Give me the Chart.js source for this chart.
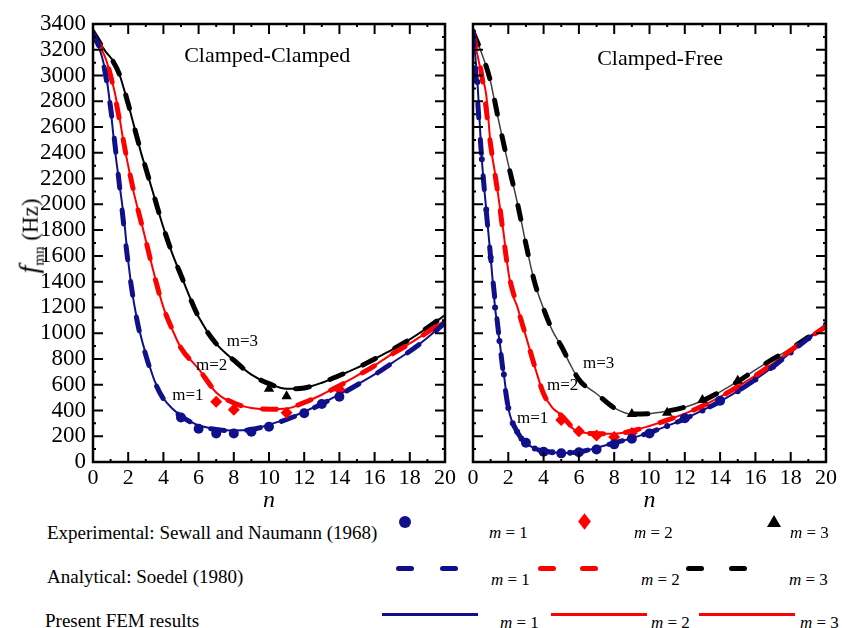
<!DOCTYPE html>
<html>
<head>
<meta charset="utf-8">
<script src="https://cdn.jsdelivr.net/npm/chart.js@4.4.0/dist/chart.umd.min.js"></script>
<style>
body{margin:0;background:#fff;width:842px;height:628px;position:relative;overflow:hidden;font-family:"Liberation Serif","Times New Roman",serif;color:#000;}
canvas{position:absolute;top:0;}
#cc{left:0;}
#cf{left:460px;}
.t{position:absolute;white-space:nowrap;font-size:19px;line-height:19px;}
.m{position:absolute;white-space:nowrap;font-size:17px;line-height:17px;}
.m i{font-style:italic;}
.ytitle{position:absolute;left:30px;top:236px;transform:translate(-50%,-50%) rotate(-90deg);white-space:nowrap;font-size:23px;}
.ytitle i{font-size:28px;}
.ytitle sub{font-size:15px;}
.dot{position:absolute;width:12px;height:12px;border-radius:50%;background:#10108a;}
.dia{position:absolute;width:9px;height:9px;background:#ff0000;transform:scale(1,1.3) rotate(45deg);}
.tri{position:absolute;width:0;height:0;border-left:7px solid transparent;border-right:7px solid transparent;border-bottom:12px solid #000;}
.dash{position:absolute;width:18px;height:5px;border-radius:3px;}
.ln{position:absolute;width:96px;height:3px;}
</style>
</head>
<body>
<canvas id="cc" width="460" height="515"></canvas>
<canvas id="cf" width="382" height="515"></canvas>

<div class="ytitle"><i>f</i><sub>mn</sub> (Hz)</div>

<div class="t" style="left:47px;top:523px">Experimental: Sewall and Naumann (1968)</div>
<div class="dot" style="left:399px;top:516px"></div>
<div class="m" style="left:489px;top:524px"><i>m</i> = 1</div>
<div class="dia" style="left:580px;top:517px"></div>
<div class="m" style="left:634px;top:524px"><i>m</i> = 2</div>
<div class="tri" style="left:767px;top:515px"></div>
<div class="m" style="left:790px;top:524px"><i>m</i> = 3</div>

<div class="t" style="left:47px;top:567px">Analytical: Soedel (1980)</div>
<div class="dash" style="left:396px;top:566px;background:#10108a"></div>
<div class="dash" style="left:440px;top:566px;background:#10108a"></div>
<div class="m" style="left:491px;top:571px"><i>m</i> = 1</div>
<div class="dash" style="left:538px;top:566px;background:#ff0000"></div>
<div class="dash" style="left:580px;top:566px;background:#ff0000"></div>
<div class="m" style="left:641px;top:571px"><i>m</i> = 2</div>
<div class="dash" style="left:686px;top:566px;background:#000"></div>
<div class="dash" style="left:729px;top:566px;background:#000"></div>
<div class="m" style="left:789px;top:571px"><i>m</i> = 3</div>

<div class="t" style="left:45px;top:611px">Present FEM results</div>
<div class="ln" style="left:382px;top:613px;background:#10108a"></div>
<div class="m" style="left:500px;top:614px"><i>m</i> = 1</div>
<div class="ln" style="left:551px;top:613px;background:#ff0000"></div>
<div class="m" style="left:651px;top:614px"><i>m</i> = 2</div>
<div class="ln" style="left:699px;top:613px;background:#ff0000"></div>
<div class="m" style="left:800px;top:614px"><i>m</i> = 3</div>

<script>
// circumferential wave number n
const nFine = [0,0.25,0.5,0.75,1,1.25,1.5,1.75,2,2.25,2.5,2.75,3,3.5,4,4.5,5,5.5,6,7,8,9,10,11,12,13,14,15,16,17,18,19,20];
const nCoarse = [0,0.5,1,1.5,2,2.5,3,3.5,4,4.5,5,6,7,8,9,10,11,12,13,14,15,16,17,18,19,20];

// Present FEM results, clamped-clamped (Hz)
const femCC1 = [3340,3250,3150,3000,2740,2420,2160,1900,1560,1300,1110,960,840,630,495,415,360,318,285,255,245,255,290,335,390,455,525,600,680,770,860,965,1085];
const femCC2 = [3300,3260,3200,3120,3000,2860,2680,2470,2300,2130,1990,1860,1720,1445,1200,1030,885,800,722,540,455,420,410,415,462,522,595,670,750,840,920,1010,1100];
const femCC3 = [3340,3280,3230,3180,3140,3090,3010,2900,2780,2650,2520,2390,2280,2050,1820,1620,1450,1280,1125,918,790,678,608,568,575,615,672,730,800,872,952,1042,1140];
// Present FEM results, clamped-free (Hz)
const femCF1 = [3340,2950,2350,1960,1590,1200,940,680,420,300,235,180,148,105,85,75,70,72,78,110,148,185,228,280,335,400,470,550,640,740,850,960,1068];
const femCF2 = [3330,3160,3000,2850,2460,2240,2000,1760,1480,1300,1210,1090,975,740,530,420,365,280,232,222,220,240,280,325,375,435,505,585,670,765,868,960,1052];
const femCF3 = [3340,3260,3170,3070,2950,2780,2620,2460,2310,2170,2020,1860,1690,1390,1190,1020,900,760,640,530,420,372,375,395,425,475,545,625,715,800,880,970,1070];

// Analytical, Soedel (1980)
const anCC1 = [3330,3150,2750,2150,1540,1100,830,625,490,410,355,282,252,243,252,285,330,385,450,520,598,678,768,860,962,1082];
const anCC2 = [3300,3200,3000,2660,2300,1990,1720,1440,1200,1030,885,722,542,458,420,410,415,462,522,592,668,748,838,918,1008,1100];
const anCC3 = [3340,3230,3140,3010,2780,2520,2280,2050,1820,1620,1450,1125,918,790,678,608,568,575,615,672,730,800,872,952,1042,1140];
const anCF1 = [3340,2350,1590,940,420,235,148,105,85,75,70,78,110,148,185,228,280,335,400,470,550,640,740,850,960,1068];
const anCF2 = [3330,3000,2460,2000,1480,1210,975,740,530,420,362,233,220,218,240,280,325,375,435,505,585,670,765,868,960,1052];
const anCF3 = [3340,3170,2950,2620,2310,2020,1690,1390,1190,1020,900,640,530,420,372,375,395,425,475,545,625,715,800,880,970,1070];

// Experimental, Sewall and Naumann (1968)
const expCC1n = [5,6,7,8,9,10,12,13,14];
const expCC1 = [345,258,222,222,235,274,378,450,507];
const expCC2n = [7,8,11,14];
const expCC2 = [468,405,383,562];
const expCC3n = [10,11];
const expCC3 = [568,510];
const expCF1n = [3,4,5,6,7,8,9,10,12,14];
const expCF1 = [150,80,67,75,98,137,181,222,339,476];
const expCF2n = [5,6,7,8,9];
const expCF2 = [326,238,205,195,225];
const expCF3n = [9,11,13,15];
const expCF3 = [373,383,481,631];

const xTicks = [0,2,4,6,8,10,12,14,16,18,20];

const NAVY = '#10108a', RED = '#ff0000', BLACK = '#000000', GREY = '#404040';
const SERIF = "'Liberation Serif', 'Times New Roman', serif";

Chart.defaults.font.family = SERIF;
Chart.defaults.color = '#000';

function pts(xs, ys) {
  return xs.map((x, i) => ({x: x, y: ys[i]}));
}

function lineSet(xs, ys, color, w, dash, radius) {
  return {
    data: pts(xs, ys), showLine: true, borderColor: color, backgroundColor: color,
    borderWidth: w, borderDash: dash, borderCapStyle: dash.length ? 'round' : 'butt',
    pointRadius: radius || 0, pointHoverRadius: 0, cubicInterpolationMode: 'monotone'
  };
}

function markSet(xs, ys, color, style, r) {
  return {
    data: pts(xs, ys), showLine: false, pointStyle: style, pointRadius: r,
    backgroundColor: color, borderColor: color, borderWidth: 0, pointHoverRadius: r
  };
}

// frame with inward ticks, plus text labels placed in data coordinates
const frame = {
  id: 'frame',
  afterDraw(chart, args, opts) {
    const {ctx, chartArea: a, scales} = chart;
    const x = scales.x, y = scales.y;
    ctx.save();
    ctx.strokeStyle = '#000';
    ctx.lineWidth = 2;
    ctx.beginPath();
    for (let v = 0; v <= 20; v++) {
      const px = x.getPixelForValue(v), len = v % 2 ? 3 : 10;
      ctx.moveTo(px, a.bottom); ctx.lineTo(px, a.bottom - len);
      ctx.moveTo(px, a.top); ctx.lineTo(px, a.top + len);
    }
    for (let v = 0; v <= 3400; v += 100) {
      const py = y.getPixelForValue(v), len = v % 200 ? 3 : 10;
      ctx.moveTo(a.left, py); ctx.lineTo(a.left + len, py);
      ctx.moveTo(a.right, py); ctx.lineTo(a.right - len, py);
    }
    ctx.stroke();
    ctx.lineWidth = 2.5;
    ctx.strokeRect(a.left, a.top, a.right - a.left, a.bottom - a.top);

    ctx.fillStyle = '#000';
    ctx.textBaseline = 'middle';
    (opts.labels || []).forEach(l => {
      ctx.font = l.size + 'px ' + SERIF;
      ctx.textAlign = l.align || 'left';
      ctx.fillText(l.text, x.getPixelForValue(l.n), y.getPixelForValue(l.f));
    });
    ctx.restore();
  }
};

function makePanel(id, yWidth, padRight, showY, sets, labels) {
  return new Chart(document.getElementById(id), {
    type: 'scatter',
    data: {datasets: sets},
    options: {
      responsive: false, animation: false, events: [],
      layout: {padding: {top: 24, right: padRight, left: 0, bottom: 0}},
      plugins: {legend: {display: false}, tooltip: {enabled: false}, frame: {labels: labels}},
      scales: {
        x: {
          type: 'linear', min: 0, max: 20,
          afterFit: s => { s.height = 53; },
          afterBuildTicks: s => { s.ticks = xTicks.map(v => ({value: v})); },
          grid: {display: false, drawTicks: false},
          border: {display: false},
          ticks: {padding: 3, autoSkip: false, maxRotation: 0, font: {family: SERIF, size: 22},
                  callback: v => String(v)},
          title: {display: true, text: 'n', font: {family: SERIF, size: 24, style: 'italic'}, padding: {top: 0, bottom: 0}}
        },
        y: {
          type: 'linear', min: 0, max: 3400,
          afterFit: s => { s.width = yWidth; },
          grid: {display: false, drawTicks: false},
          border: {display: false},
          ticks: {display: showY, stepSize: 200, autoSkip: false, padding: 7, font: {family: SERIF, size: 23},
                  callback: v => String(v)}
        }
      }
    },
    plugins: [frame]
  });
}

makePanel('cc', 93, 15, true, [
  markSet(expCC1n, expCC1, NAVY, 'circle', 5),
  markSet(expCC2n, expCC2, RED, 'rectRot', 6),
  markSet(expCC3n, expCC3, BLACK, 'triangle', 6),
  lineSet(nCoarse, anCC1, NAVY, 5, [14, 22]),
  lineSet(nCoarse, anCC2, RED, 5, [14, 22]),
  lineSet(nCoarse, anCC3, BLACK, 5, [14, 22]),
  lineSet(nFine, femCC1, NAVY, 2, []),
  lineSet(nFine, femCC2, RED, 2, []),
  lineSet(nFine, femCC3, BLACK, 2, [])
], [
  {text: 'Clamped-Clamped', n: 9.9, f: 3150, size: 22, align: 'center'},
  {text: 'm=3', n: 7.6, f: 935, size: 17},
  {text: 'm=2', n: 5.85, f: 748, size: 17},
  {text: 'm=1', n: 4.5, f: 515, size: 17}
]);

makePanel('cf', 13, 16, false, [
  markSet(expCF1n, expCF1, NAVY, 'circle', 5),
  markSet(expCF2n, expCF2, RED, 'rectRot', 6),
  markSet(expCF3n, expCF3, BLACK, 'triangle', 6),
  lineSet(nCoarse, anCF1, NAVY, 5, [14, 22]),
  lineSet(nCoarse, anCF2, RED, 5, [14, 22]),
  lineSet(nCoarse, anCF3, BLACK, 5, [14, 22]),
  lineSet(nFine, femCF1, NAVY, 2, [], 2),
  lineSet(nFine, femCF2, RED, 2, []),
  lineSet(nFine, femCF3, GREY, 1.5, [])
], [
  {text: 'Clamped-Free', n: 10.6, f: 3130, size: 22, align: 'center'},
  {text: 'm=3', n: 6.23, f: 762, size: 17},
  {text: 'm=2', n: 4.19, f: 592, size: 17},
  {text: 'm=1', n: 2.49, f: 336, size: 17}
]);
</script>
</body>
</html>
